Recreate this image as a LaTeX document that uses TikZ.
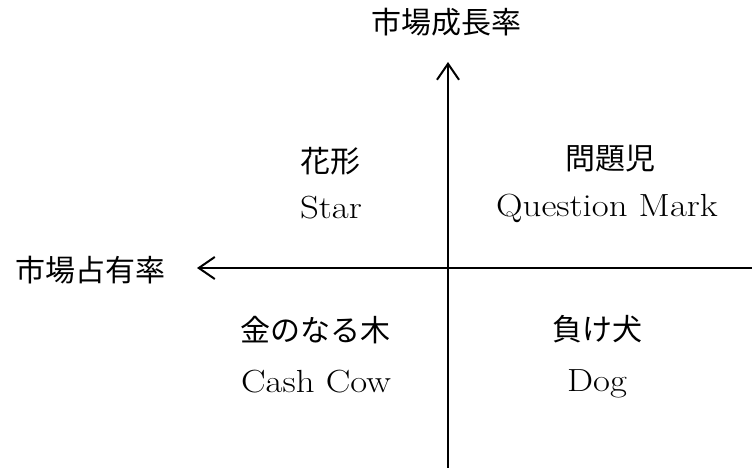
\documentclass[tikz,border=0pt]{standalone}
\usepackage{fontspec}
\usepackage{graphicx}
\newfontfamily\jp{Noto Sans CJK JP}
\usetikzlibrary{arrows.meta}
\newcommand{\wide}[1]{\scalebox{1.15}[1]{#1}}
\begin{document}
\begin{tikzpicture}[x=1pt,y=-1pt,
  axis/.style={line width=2pt,-{Straight Barb[length=16pt,width=22pt,line width=2pt]}},
  jl/.style={font=\jp\fontsize{30}{34}\selectfont,inner sep=0pt},
  el/.style={font=\fontsize{32}{36}\selectfont,inner sep=0pt,anchor=base}]
\useasboundingbox (0,0) rectangle (752,468);
\coordinate (vb) at (448,470);
\coordinate (vt) at (448,62);
\coordinate (hr) at (755,268);
\coordinate (hl) at (197,268);
\draw[axis] (vb) -- (vt);
\draw[axis] (hr) -- (hl);
\node[jl] (ty) at (446,22) {市場成長率};
\node[jl] (tx) at (90,270) {市場占有率};
\node[jl] (q1j) at (330,161) {花形};
\node[el] (q1e) at (331,218) {\wide{Star}};
\node[jl] (q2j) at (610,159) {問題児};
\node[el] (q2e) at (607,216) {\wide{Question Mark}};
\node[jl] (q3j) at (315,330) {金のなる木};
\node[el] (q3e) at (316,392) {\wide{Cash Cow}};
\node[jl] (q4j) at (597,329) {負け犬};
\node[el] (q4e) at (597,391) {\wide{Dog}};
\end{tikzpicture}
\end{document}
